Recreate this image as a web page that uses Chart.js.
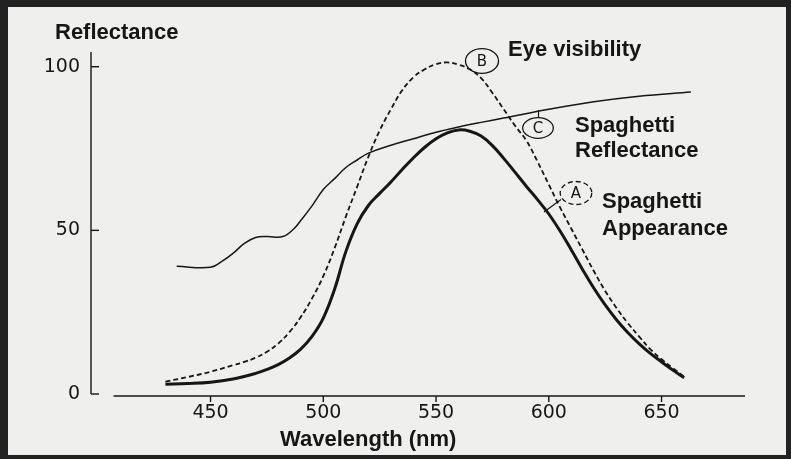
<!DOCTYPE html>
<html>
<head>
<meta charset="utf-8">
<script src="https://cdn.jsdelivr.net/npm/chart.js@4.4.1/dist/chart.umd.min.js"></script>
<style>
  html, body { margin: 0; padding: 0; background: #222; }
</style>
</head>
<body>
<canvas id="chart" width="791" height="459"></canvas>
<script>
// Spaghetti appearance (A), thick solid
const appearanceWl = [430, 440, 450, 460, 470, 475, 480, 485, 490, 495, 500, 505, 510, 515, 520, 525, 530, 535, 540, 545, 550, 555, 560, 565, 570, 575, 580, 585, 590, 595, 600, 605, 610, 615, 620, 625, 630, 635, 640, 645, 650, 655, 660];
const appearanceVal = [3, 3.2, 3.6, 4.6, 6.3, 7.5, 9, 11, 13.7, 17.6, 23.2, 32, 43.5, 52, 57.6, 61.3, 64.8, 68.6, 72.2, 75.4, 78, 79.8, 80.7, 80.3, 78.8, 75.9, 72, 67.8, 63.5, 59.4, 55, 49.8, 44, 38, 32.3, 27.2, 22.7, 18.8, 15.4, 12.4, 9.8, 7.3, 5];

// Eye visibility (B), dashed
const eyeWl = [430, 440, 450, 460, 465, 470, 475, 480, 485, 490, 495, 500, 505, 510, 515, 520, 525, 530, 535, 540, 545, 550, 555, 560, 565, 570, 575, 580, 585, 590, 595, 600, 605, 610, 615, 620, 625, 630, 635, 640, 645, 650, 655, 660];
const eyeVal = [3.8, 5.2, 6.8, 8.8, 9.8, 11.1, 12.9, 15.4, 18.9, 23.5, 29.2, 36, 44.5, 54.2, 63.3, 72.5, 80.5, 87, 92.8, 96.8, 99.2, 100.8, 101.3, 100.6, 99.2, 96.5, 92, 87, 82, 77.5, 71, 64, 57, 50.5, 44, 37.5, 31.5, 26.3, 21.7, 17.6, 13.7, 10.6, 7.9, 5.3];

// Spaghetti reflectance (C), thin solid
const reflWl = [435, 450, 455, 460, 465, 470, 475, 482, 487, 490, 495, 500, 505, 510, 515, 520, 530, 540, 550, 560, 570, 580, 600, 620, 640, 663];
const reflVal = [39, 38.7, 40.5, 43, 46, 47.8, 48.1, 48.1, 50.5, 53, 57.5, 62.5, 65.8, 69.2, 71.5, 73.6, 76, 78, 80, 81.6, 83, 84.3, 87, 89.3, 91, 92.3];

const xTicks = [450, 500, 550, 600, 650];
const yTicks = [0, 50, 100];

const ink = '#161616';
const labelFont = 'bold 22px "Liberation Sans", Arial, sans-serif';

function pts(xs, ys) {
    return xs.map((x, i) => ({ x: x, y: ys[i] }));
}

const framePlugin = {
    id: 'frame',
    beforeDraw(chart) {
        const ctx = chart.ctx;
        ctx.save();
        ctx.fillStyle = '#222222';
        ctx.fillRect(0, 0, chart.width, chart.height);
        ctx.fillStyle = '#efefed';
        ctx.fillRect(8, 7, chart.width - 13, chart.height - 11);
        ctx.restore();
    }
};

function ellipse(ctx, cx, cy, rx, ry, letter, dashed) {
    ctx.save();
    ctx.lineWidth = 1.3;
    ctx.strokeStyle = ink;
    if (dashed) ctx.setLineDash([5, 3]);
    ctx.beginPath();
    ctx.ellipse(cx, cy, rx, ry, 0, 0, Math.PI * 2);
    ctx.stroke();
    ctx.setLineDash([]);
    ctx.fillStyle = ink;
    ctx.font = '15px "DejaVu Sans", sans-serif';
    ctx.textAlign = 'center';
    ctx.textBaseline = 'middle';
    ctx.fillText(letter, cx, cy + 1);
    ctx.restore();
}

function line(ctx, x1, y1, x2, y2, w) {
    ctx.lineWidth = w;
    ctx.beginPath();
    ctx.moveTo(x1, y1);
    ctx.lineTo(x2, y2);
    ctx.stroke();
}

const axesPlugin = {
    id: 'axesAndNotes',
    afterDraw(chart) {
        const ctx = chart.ctx;
        const xs = chart.scales.x;
        const ys = chart.scales.y;
        const area = chart.chartArea;
        ctx.save();
        ctx.strokeStyle = ink;

        // y axis with inward ticks
        const y0 = ys.getPixelForValue(0);
        line(ctx, area.left, area.top, area.left, y0, 1.4);
        yTicks.forEach(v => {
            const py = ys.getPixelForValue(v);
            line(ctx, area.left, py, area.left + 8, py, 1.4);
        });

        // x axis, detached from the y axis
        const xy = y0 + 2;
        line(ctx, xs.getPixelForValue(407), xy, area.right, xy, 1.4);
        xTicks.forEach(v => {
            const px = xs.getPixelForValue(v);
            line(ctx, px, xy, px, xy + 6, 1.4);
        });

        // axis titles
        ctx.fillStyle = ink;
        ctx.font = labelFont;
        ctx.textAlign = 'left';
        ctx.textBaseline = 'alphabetic';
        ctx.fillText('Reflectance', 55, 39);
        ctx.fillText('Wavelength (nm)', 280, 446);

        // curve labels
        ctx.fillText('Eye visibility', 508, 56);
        ctx.fillText('Spaghetti', 575, 132);
        ctx.fillText('Reflectance', 575, 157);
        ctx.fillText('Spaghetti', 602, 208);
        ctx.fillText('Appearance', 602, 235);

        ellipse(ctx, 482, 61, 16.5, 12.3, 'B', false);
        ellipse(ctx, 538, 128, 15.3, 10.3, 'C', false);
        ellipse(ctx, 576, 193, 15.8, 11.5, 'A', true);

        line(ctx, 538.5, 110, 538.5, 118, 1.2);
        line(ctx, 561, 199.5, 544, 212, 1.2);
        ctx.restore();
    }
};

new Chart(document.getElementById('chart'), {
    type: 'line',
    data: {
        datasets: [
            {
                label: 'Spaghetti Appearance',
                data: pts(appearanceWl, appearanceVal),
                borderColor: ink,
                borderWidth: 3,
                pointRadius: 0,
                tension: 0.4
            },
            {
                label: 'Eye visibility',
                data: pts(eyeWl, eyeVal),
                borderColor: ink,
                borderWidth: 1.8,
                borderDash: [5, 3],
                pointRadius: 0,
                tension: 0.4
            },
            {
                label: 'Spaghetti Reflectance',
                data: pts(reflWl, reflVal),
                borderColor: ink,
                borderWidth: 1.5,
                pointRadius: 0,
                tension: 0.4
            }
        ]
    },
    options: {
        responsive: false,
        animation: false,
        layout: { padding: { left: 0, top: 52, right: 46, bottom: 0 } },
        plugins: {
            legend: { display: false },
            tooltip: { enabled: false }
        },
        scales: {
            x: {
                type: 'linear',
                min: 397,
                max: 687,
                afterBuildTicks: s => { s.ticks = xTicks.map(v => ({ value: v })); },
                afterFit: s => { s.height = 65; },
                grid: { display: false, drawTicks: false },
                border: { display: false },
                ticks: {
                    color: ink,
                    padding: 8,
                    maxRotation: 0,
                    font: { family: '"DejaVu Sans", sans-serif', size: 19 }
                }
            },
            y: {
                min: 0,
                max: 104.5,
                afterBuildTicks: s => { s.ticks = yTicks.map(v => ({ value: v })); },
                afterFit: s => { s.width = 91; },
                grid: { display: false, drawTicks: false },
                border: { display: false },
                ticks: {
                    color: ink,
                    padding: 11,
                    font: { family: '"DejaVu Sans", sans-serif', size: 19 }
                }
            }
        }
    },
    plugins: [framePlugin, axesPlugin]
});
</script>
</body>
</html>
